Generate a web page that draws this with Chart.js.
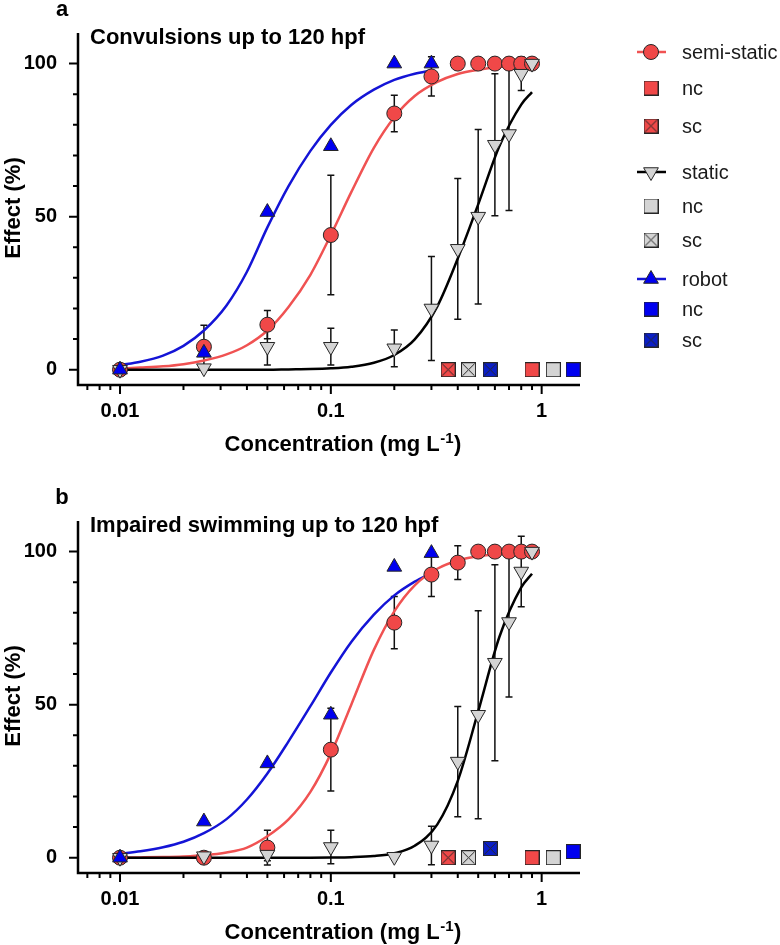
<!DOCTYPE html>
<html>
<head>
<meta charset="utf-8">
<script src="https://cdn.jsdelivr.net/npm/chart.js@4.4.1/dist/chart.umd.min.js"></script>
<style>
  html, body { margin: 0; padding: 0; background: #fff; overflow: hidden; }
  .panel { position: absolute; left: 0; width: 780px; }
  #panelA { top: 0; height: 488px; }
  #panelB { top: 488px; height: 457px; }
</style>
</head>
<body>
<div class="panel" id="panelA"><canvas id="chartA"></canvas></div>
<div class="panel" id="panelB"><canvas id="chartB"></canvas></div>
<script>
// exposure concentrations (mg/L)
let doses = [0.01, 0.025, 0.05, 0.1, 0.2, 0.3, 0.4, 0.5, 0.6, 0.7, 0.8, 0.9];
let robotDoses = [0.01, 0.025, 0.05, 0.1, 0.2, 0.3];
// where the control squares sit on the x axis (sc / nc: semi-static, static, robot)
let ctrlScConc = [0.36, 0.45, 0.57];
let ctrlNcConc = [0.9, 1.135, 1.41];

// a: convulsions
let semiA = [0, 7.5, 14.7, 44, 83.7, 95.8, 100, 100, 100, 100, 100, 100];
let semiAErr = [0, 7, 4.6, 19.5, 6, 6.4, 0, 0, 0, 0, 0, 0];
let staticA = [0, 0.5, 7.5, 7.5, 7, 20, 39.5, 50, 73.5, 77, 96.7, 100];
let staticAErr = [0, 0, 6, 6, 6, 17, 23, 28.5, 23.2, 25, 5.5, 0];
let robotA = [0, 5.5, 51.5, 73, 100, 100];
let scA = [0, 0, 0];
let ncA = [0, 0, 0];

// b: impaired swimming
let semiB = [0, 0, 3.3, 35.3, 76.8, 92.5, 96.4, 100, 100, 100, 100, 100];
let semiBErr = [0, 0, 5.7, 13.5, 8.5, 7.2, 5.5, 0, 0, 0, 0, 0];
let staticB = [0, 0.5, 1, 3.5, 0.3, 4, 31.4, 46.7, 63.7, 77, 93.5, 100];
let staticBErr = [0, 0, 2, 5.5, 0, 6.3, 18, 34, 32, 24.5, 11.5, 0];
let robotB = [0, 11.8, 30.8, 46.7, 95, 99.5];
let scB = [0, 0, 3];
let ncB = [0, 0, 2];

// fitted curves
let fitConc = [0.01, 0.0125, 0.016, 0.02, 0.025, 0.032, 0.04, 0.05, 0.063, 0.08, 0.1, 0.125, 0.16, 0.2, 0.25, 0.32, 0.4, 0.5, 0.63, 0.8, 0.9];
let fitSemiA = [0.4, 0.7, 1.1, 1.8, 3, 5, 8, 12.8, 20.5, 31, 44, 58, 72.5, 82.5, 89.4, 94, 96.6, 98, 98.9, 99.4, 99.5];
let fitStaticA = [0, 0, 0, 0, 0, 0, 0, 0, 0.1, 0.2, 0.44, 0.96, 2.25, 4.8, 9.9, 20.7, 36.3, 54, 73, 86.6, 90.7];
let fitSemiB = [0.05, 0.1, 0.2, 0.4, 0.8, 1.7, 3.3, 7, 12.5, 21.5, 34, 50, 67.9, 80.5, 89, 94.4, 97.1, 98.5, 99.2, 99.6, 99.7];
let fitStaticB = [0, 0, 0, 0, 0, 0, 0, 0, 0, 0.02, 0.07, 0.18, 0.54, 1.46, 3.9, 10.9, 25.1, 47.8, 72.1, 88.3, 92.8];
let fitConcRobot = [0.01, 0.0125, 0.016, 0.02, 0.025, 0.032, 0.04, 0.05, 0.063, 0.08, 0.1, 0.125, 0.16, 0.2, 0.25, 0.3];
let fitRobotA = [1.5, 2.6, 4.6, 7.8, 12.8, 21, 32, 46.5, 60, 71.5, 80, 86.5, 91.5, 94.7, 96.7, 97.8];
let fitRobotB = [1.3, 2.1, 3.4, 5.2, 8, 12.6, 19, 27.5, 38, 49.5, 60.5, 70.5, 79.4, 85.7, 90.2, 93];

// axes
let xTicks = [0.01, 0.1, 1];
let xMinor = [0.007, 0.008, 0.009, 0.02, 0.03, 0.04, 0.05, 0.06, 0.07, 0.08, 0.09, 0.2, 0.3, 0.4, 0.5, 0.6, 0.7, 0.8, 0.9];
let yTicks = [0, 50, 100];
let yMinor = [10, 20, 30, 40, 60, 70, 80, 90];
let legendLabels = ['semi-static', 'nc', 'sc', 'static', 'nc', 'sc', 'robot', 'nc', 'sc'];

const FONT = "'Liberation Sans', Arial, Helvetica, sans-serif";
const RED = '#f04848', RED_LINE = '#f05252', GRAY = '#d4d4d4', BLUE = '#0000f0', BLUE_LINE = '#1414d6', EDGE = '#262626';

function box(fill, crossed) {
    let c = document.createElement('canvas');
    c.width = 15; c.height = 15;
    let g = c.getContext('2d');
    g.fillStyle = fill;
    g.fillRect(0.5, 0.5, 14, 14);
    g.strokeStyle = EDGE;
    g.lineWidth = 1;
    g.strokeRect(0.5, 0.5, 14, 14);
    if (crossed) {
        g.beginPath();
        g.moveTo(1.5, 1.5); g.lineTo(13.5, 13.5);
        g.moveTo(13.5, 1.5); g.lineTo(1.5, 13.5);
        g.stroke();
    }
    return c;
}
let ncIcons = [box(RED, false), box(GRAY, false), box(BLUE, false)];
let scIcons = [box(RED, true), box(GRAY, true), box('#0a1ec8', true)];

function pts(xs, ys) {
    return xs.map((x, i) => ({x: x, y: ys[i]}));
}

function curve(xs, ys, color) {
    return {
        data: pts(xs, ys), showLine: true, borderColor: color, borderWidth: 2.5,
        pointRadius: 0, cubicInterpolationMode: 'monotone', order: 10
    };
}

function marks(xs, ys, err, extra) {
    return Object.assign({
        data: pts(xs, ys), errorBars: err, pointBorderColor: EDGE, pointBorderWidth: 1,
        showLine: false, clip: false
    }, extra);
}

function drawTri(ctx, x, y, r, down, fill) {
    let s = down ? -1 : 1;
    ctx.beginPath();
    ctx.moveTo(x, y - s * r);
    ctx.lineTo(x + r * 0.866, y + s * r / 2);
    ctx.lineTo(x - r * 0.866, y + s * r / 2);
    ctx.closePath();
    ctx.fillStyle = fill; ctx.fill();
    ctx.strokeStyle = EDGE; ctx.lineWidth = 1; ctx.stroke();
}

const deco = {
    id: 'deco',
    beforeDatasetsDraw(chart) {
        let ctx = chart.ctx, y = chart.scales.y;
        ctx.save();
        ctx.strokeStyle = '#111';
        ctx.lineWidth = 1.5;
        chart.data.datasets.forEach((ds, i) => {
            if (!ds.errorBars) return;
            let meta = chart.getDatasetMeta(i);
            ds.data.forEach((d, j) => {
                let e = ds.errorBars[j];
                if (!e) return;
                let px = meta.data[j].x;
                let t = y.getPixelForValue(d.y + e), b = y.getPixelForValue(d.y - e);
                ctx.beginPath();
                ctx.moveTo(px, t); ctx.lineTo(px, b);
                ctx.moveTo(px - 3.5, t); ctx.lineTo(px + 3.5, t);
                ctx.moveTo(px - 3.5, b); ctx.lineTo(px + 3.5, b);
                ctx.stroke();
            });
        });
        ctx.restore();
    },
    afterDraw(chart, args, o) {
        let ctx = chart.ctx, a = chart.chartArea, x = chart.scales.x, y = chart.scales.y;
        ctx.save();
        // axis lines and tick marks
        ctx.strokeStyle = '#000';
        ctx.lineWidth = 2.5;
        ctx.beginPath();
        ctx.moveTo(a.left, a.top); ctx.lineTo(a.left, a.bottom); ctx.lineTo(a.right, a.bottom);
        ctx.stroke();
        ctx.lineWidth = 2;
        ctx.beginPath();
        yTicks.forEach(v => { let p = y.getPixelForValue(v); ctx.moveTo(a.left - 9, p); ctx.lineTo(a.left, p); });
        yMinor.forEach(v => { let p = y.getPixelForValue(v); ctx.moveTo(a.left - 5, p); ctx.lineTo(a.left, p); });
        xTicks.forEach(v => { let p = x.getPixelForValue(v); ctx.moveTo(p, a.bottom); ctx.lineTo(p, a.bottom + 9); });
        xMinor.forEach(v => { let p = x.getPixelForValue(v); ctx.moveTo(p, a.bottom); ctx.lineTo(p, a.bottom + 5); });
        ctx.stroke();

        ctx.fillStyle = '#000';
        ctx.font = 'bold 22px ' + FONT;
        ctx.textBaseline = 'alphabetic';
        ctx.textAlign = 'center';
        ctx.fillText(o.letter, 62, 16);
        ctx.textAlign = 'left';
        ctx.fillText(o.title, 90, 44);

        // x title with superscript
        let t1 = 'Concentration (mg L', t2 = '-1', t3 = ')';
        let w1 = ctx.measureText(t1).width, w3 = ctx.measureText(t3).width;
        ctx.font = 'bold 15px ' + FONT;
        let w2 = ctx.measureText(t2).width;
        let sx = 343 - (w1 + w2 + w3 + 1) / 2, by = 451;
        ctx.font = 'bold 22px ' + FONT;
        ctx.fillText(t1, sx, by);
        ctx.fillText(t3, sx + w1 + w2 + 1, by);
        ctx.font = 'bold 15px ' + FONT;
        ctx.fillText(t2, sx + w1 + 0.5, by - 8);

        ctx.font = 'bold 22px ' + FONT;
        ctx.translate(14, 208);
        ctx.rotate(-Math.PI / 2);
        ctx.textAlign = 'center';
        ctx.textBaseline = 'middle';
        ctx.fillText('Effect (%)', 0, 0);
        ctx.restore();

        if (o.legend) drawLegend(ctx);
    }
};

function drawLegend(ctx) {
    let ys = [52, 88, 126, 172, 206, 240, 279, 309, 340];
    let cx = 651;
    ctx.save();
    // series rows
    [[0, RED_LINE], [3, '#000'], [6, BLUE_LINE]].forEach(r => {
        ctx.strokeStyle = r[1]; ctx.lineWidth = 2.5;
        ctx.beginPath(); ctx.moveTo(637, ys[r[0]]); ctx.lineTo(666, ys[r[0]]); ctx.stroke();
    });
    ctx.beginPath(); ctx.arc(cx, ys[0], 7.5, 0, Math.PI * 2);
    ctx.fillStyle = RED; ctx.fill(); ctx.strokeStyle = EDGE; ctx.lineWidth = 1; ctx.stroke();
    drawTri(ctx, cx, ys[3], 8.5, true, GRAY);
    drawTri(ctx, cx, ys[6], 8.5, false, BLUE);
    [1, 4, 7].forEach((k, i) => ctx.drawImage(ncIcons[i], cx - 7.5, ys[k] - 7.5));
    [2, 5, 8].forEach((k, i) => ctx.drawImage(scIcons[i], cx - 7.5, ys[k] - 7.5));
    ctx.fillStyle = '#1a1a1a';
    ctx.font = '20px ' + FONT;
    ctx.textAlign = 'left';
    ctx.textBaseline = 'middle';
    legendLabels.forEach((s, i) => ctx.fillText(s, 682, ys[i] + 1));
    ctx.restore();
}

function makeChart(id, p) {
    let tickFont = {family: FONT, size: 20, weight: 'bold'};
    return new Chart(document.getElementById(id), {
        type: 'scatter',
        data: {
            datasets: [
                curve(fitConc, p.fitStatic, '#000'),
                curve(fitConc, p.fitSemi, RED_LINE),
                curve(fitConcRobot, p.fitRobot, BLUE_LINE),
                marks(doses, p.semi, p.semiErr, {pointStyle: 'circle', pointRadius: 7.5, pointBackgroundColor: RED, order: 3}),
                marks(doses, p.stat, p.statErr, {pointStyle: 'triangle', pointRotation: 180, pointRadius: 8.5, pointBackgroundColor: GRAY, order: 2}),
                marks(robotDoses, p.robot, null, {pointStyle: 'triangle', pointRadius: 8.5, pointBackgroundColor: BLUE, order: 1}),
                marks(ctrlScConc, p.sc, null, {pointStyle: scIcons, pointRadius: 7.5, order: 1}),
                marks(ctrlNcConc, p.nc, null, {pointStyle: ncIcons, pointRadius: 7.5, order: 1})
            ]
        },
        options: {
            responsive: true,
            maintainAspectRatio: false,
            animation: false,
            events: [],
            layout: {padding: {top: 33, right: 200, left: 0, bottom: 0}},
            plugins: {
                legend: {display: false},
                tooltip: {enabled: false},
                deco: {letter: p.letter, title: p.title, legend: p.legend}
            },
            scales: {
                x: {
                    type: 'logarithmic', min: 0.00632, max: 1.52,
                    afterBuildTicks: s => { s.ticks = xTicks.map(v => ({value: v})); },
                    afterFit: s => { s.height = p.xHeight; },
                    grid: {display: false}, border: {display: false},
                    ticks: {font: tickFont, color: '#000', padding: 6, maxRotation: 0, autoSkip: false, callback: v => String(v)}
                },
                y: {
                    min: -5, max: 110,
                    afterBuildTicks: s => { s.ticks = yTicks.map(v => ({value: v})); },
                    afterFit: s => { s.width = 78; },
                    grid: {display: false}, border: {display: false},
                    ticks: {font: tickFont, color: '#000', padding: 13, callback: v => String(v)}
                }
            }
        },
        plugins: [deco]
    });
}

makeChart('chartA', {
    letter: 'a', title: 'Convulsions up to 120 hpf', legend: true, xHeight: 103,
    semi: semiA, semiErr: semiAErr, stat: staticA, statErr: staticAErr, robot: robotA,
    sc: scA, nc: ncA, fitSemi: fitSemiA, fitStatic: fitStaticA, fitRobot: fitRobotA
});
makeChart('chartB', {
    letter: 'b', title: 'Impaired swimming up to 120 hpf', legend: false, xHeight: 72,
    semi: semiB, semiErr: semiBErr, stat: staticB, statErr: staticBErr, robot: robotB,
    sc: scB, nc: ncB, fitSemi: fitSemiB, fitStatic: fitStaticB, fitRobot: fitRobotB
});
</script>
</body>
</html>
